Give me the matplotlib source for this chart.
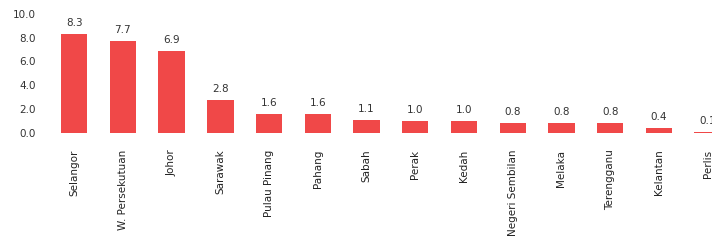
import numpy as np
import matplotlib.pyplot as plt

states = ['Selangor', 'W. Persekutuan', 'Johor', 'Sarawak', 'Pulau Pinang', 'Pahang',
          'Sabah', 'Perak', 'Kedah', 'Negeri Sembilan', 'Melaka', 'Terengganu',
          'Kelantan', 'Perlis']
values = [8.3, 7.7, 6.9, 2.8, 1.6, 1.6, 1.1, 1.0, 1.0, 0.8, 0.8, 0.8, 0.4, 0.1]
yticks = [0, 2, 4, 6, 8, 10]

fig = plt.figure(figsize=(7.12, 2.43), dpi=100)
fig.patch.set_facecolor('white')
ax = fig.add_axes([0.070, 0.453, 0.958, 0.49])
ax.set_facecolor('none')

x = np.arange(len(states))
bars = ax.bar(x, values, width=0.54, color='#F04848')
for xi, v in zip(x, values):
    ax.text(xi, v + 0.5, '%.1f' % v, ha='center', va='bottom', fontsize=7.5,
            color='#333333', clip_on=False)

ax.set_xlim(-0.5, len(states) - 0.5)
ax.set_ylim(0, 10)
ax.set_yticks(yticks)
ax.set_yticklabels(['%.1f' % t for t in yticks], fontsize=7.5, color='#333333')
ax.set_xticks(x)
ax.set_xticklabels(states, rotation=90, fontsize=7.5, color='#222222', va='top')
ax.tick_params(axis='both', length=0)
ax.tick_params(axis='y', pad=10)
ax.tick_params(axis='x', pad=12)
for s in ax.spines.values():
    s.set_visible(False)

plt.savefig('out.png', dpi=100)
